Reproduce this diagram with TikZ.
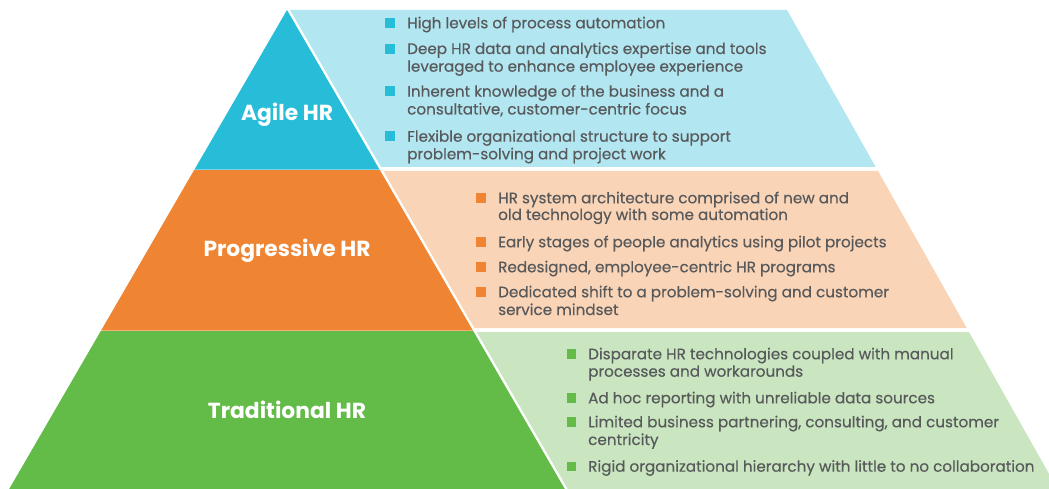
\documentclass[tikz,border=0pt]{standalone}
\usepackage{fontspec}
\setmainfont{Poppins}
\newfontfamily\bodyfont[FakeBold=0.35]{Poppins}
\definecolor{bluedark}{RGB}{39,188,216}
\definecolor{bluelight}{RGB}{178,230,241}
\definecolor{orgdark}{RGB}{239,132,51}
\definecolor{orglight}{RGB}{249,212,183}
\definecolor{grndark}{RGB}{99,187,72}
\definecolor{grnlight}{RGB}{201,230,192}
\definecolor{txtgrey}{RGB}{88,89,91}
\tikzset{
  txt/.style={anchor=base west, inner sep=0pt, text=txtgrey, font=\bodyfont\fontsize{15.2}{18}\selectfont},
  ttl/.style={anchor=base, inner sep=0pt, text=white, font=\fontsize{21.8}{26}\selectfont\bfseries},
  bul/.style={inner sep=0pt, minimum size=9.8pt, draw=none},
}
\begin{document}
\begin{tikzpicture}[x=1pt,y=-1pt]
\useasboundingbox (0,0) rectangle (1049,489);
\clip (0,0) rectangle (1049,489);
% pyramid bands
\fill[bluedark] (287,10) -- (379.6,169.7) -- (194.4,169.7) -- cycle;
\fill[orgdark] (194.1,170.1) -- (379.9,170.1) -- (472.95,330.6) -- (101.05,330.6) -- cycle;
\fill[grndark] (100.8,331) -- (473.2,331) -- (564.8,489) -- (9.2,489) -- cycle;
% panels
\fill[bluelight] (290,10) -- (787,10) -- (875.7,167) -- (381.1,167) -- cycle;
\fill[orglight] (383.4,171) -- (878,171) -- (966.7,328) -- (474.4,328) -- cycle;
\fill[grnlight] (476.8,332) -- (969,332) -- (1057.6,489) -- (567.8,489) -- cycle;
% titles
\node[ttl] (agile) at (287,120.7) {Agile HR};
\node[ttl] (prog) at (287,256.7) {Progressive HR};
\node[ttl] (trad) at (287,418) {Traditional HR};
% blue items
\node[bul, fill=bluedark] (ba1) at (390,23) {};
\node[txt] (ta1) at (407,28.3) {High levels of process automation};
\node[bul, fill=bluedark] (ba2) at (390,48.7) {};
\node[txt] (ta2) at (407,54) {Deep HR data and analytics expertise and tools};
\node[txt] (ta2b) at (407,71.7) {leveraged to enhance employee experience};
\node[bul, fill=bluedark] (ba3) at (390,91.4) {};
\node[txt] (ta3) at (407,96.7) {Inherent knowledge of the business and a};
\node[txt] (ta3b) at (407,114.5) {consultative, customer-centric focus};
\node[bul, fill=bluedark] (ba4) at (390,136.4) {};
\node[txt] (ta4) at (407,141.7) {Flexible organizational structure to support};
\node[txt] (ta4b) at (407,159.3) {problem-solving and project work};
% orange items
\node[bul, fill=orgdark] (bo1) at (481,198) {};
\node[txt] (to1) at (498,203.3) {HR system architecture comprised of new and};
\node[txt] (to1b) at (498,220) {old technology with some automation};
\node[bul, fill=orgdark] (bo2) at (481,242) {};
\node[txt] (to2) at (498,247.3) {Early stages of people analytics using pilot projects};
\node[bul, fill=orgdark] (bo3) at (481,267) {};
\node[txt] (to3) at (498,272.3) {Redesigned, employee-centric HR programs};
\node[bul, fill=orgdark] (bo4) at (481,292) {};
\node[txt] (to4) at (498,297.3) {Dedicated shift to a problem-solving and customer};
\node[txt] (to4b) at (498,315) {service mindset};
% green items
\node[bul, fill=grndark] (bg1) at (571.5,354) {};
\node[txt] (tg1) at (588,359.3) {Disparate HR technologies coupled with manual};
\node[txt] (tg1b) at (588,376.7) {processes and workarounds};
\node[bul, fill=grndark] (bg2) at (571.5,398) {};
\node[txt] (tg2) at (588,403.3) {Ad hoc reporting with unreliable data sources};
\node[bul, fill=grndark] (bg3) at (571.5,422) {};
\node[txt] (tg3) at (588,427.3) {Limited business partnering, consulting, and customer};
\node[txt] (tg3b) at (588,445) {centricity};
\node[bul, fill=grndark] (bg4) at (571.5,466.4) {};
\node[txt] (tg4) at (588,471.7) {Rigid organizational hierarchy with little to no collaboration};
\end{tikzpicture}
\end{document}
